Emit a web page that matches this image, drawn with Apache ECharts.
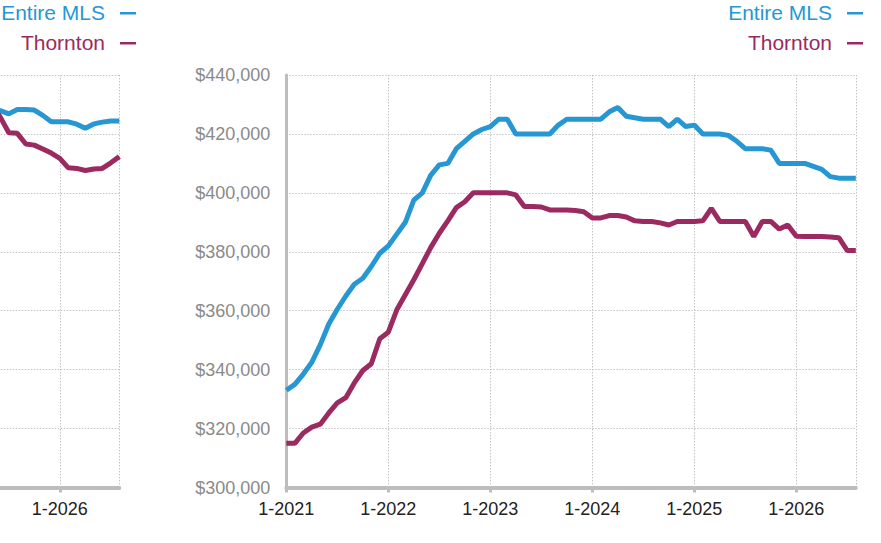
<!DOCTYPE html>
<html>
<head>
<meta charset="utf-8">
<script src="https://cdn.jsdelivr.net/npm/echarts@6/dist/echarts.min.js"></script>
<style>
html,body{margin:0;padding:0;background:#fff;}
#c{width:881px;height:543px;}
</style>
</head>
<body>
<div id="c"></div>
<script>
// ---- data ----
var seriesNames = ['Entire MLS', 'Thornton'];
var seriesColors = ['#2697d3', '#9b2a60'];

// main chart: monthly, 1-2021 .. 8-2026
var mainStart = [2021, 1];
var mainMonths = 68;
var mainMLS = [333000,335000,338500,342500,348500,355500,360500,365000,369000,371000,
  375000,379500,382000,386000,390000,397500,400000,406000,409500,410000,
  415000,417500,420000,421500,422500,425000,425000,420000,420000,420000,
  420000,420000,423000,425000,425000,425000,425000,425000,427500,429000,
  426000,425500,425000,425000,425000,422500,425000,422500,423000,420000,
  420000,420000,419500,417500,415000,415000,415000,414500,410000,410000,
  410000,410000,409000,408000,405500,405000,405000,405000];
var mainThornton = [315000,315000,318500,320500,321500,325300,328700,330500,335500,339700,
  342000,350500,352700,360300,365400,370500,376000,381500,386300,390500,
  395000,397000,400000,400000,400000,400000,400000,399300,395400,395400,
  395200,394200,394200,394200,394000,393600,391500,391500,392300,392300,
  391800,390500,390300,390300,389800,389100,390300,390300,390300,390500,
  394700,390300,390300,390300,390300,385200,390300,390300,387700,389100,
  385300,385200,385200,385200,385000,384800,380400,380400];

// partially visible chart on the left: 5-2025 .. 8-2026
var leftStart = [2025, 5];
var leftMonths = 16;
var leftMLS = [427800,427900,426800,428300,428300,428100,426300,424100,424100,424100,
  423300,421900,423400,424000,424400,424400];
var leftThornton = [429800,425700,420400,420200,416600,416200,414900,413500,411700,408500,
  408300,407600,408100,408300,410200,412300];

var yMin = 300000, yMax = 440000, yStep = 20000;

function monthLabels(start, n) {
  var out = [], y = start[0], m = start[1];
  for (var i = 0; i < n; i++) {
    out.push(m + '-' + y);
    m++; if (m > 12) { m = 1; y++; }
  }
  return out;
}
var mainCats = monthLabels(mainStart, mainMonths);
var leftCats = monthLabels(leftStart, leftMonths);

// ---- chart ----
var FONT = '"Liberation Sans", Arial, Helvetica, sans-serif';
var chart = echarts.init(document.getElementById('c'), null, {renderer: 'svg'});

function isYearStart(v) { return /^1-/.test(v); }
var gridLine = {color: '#c4c4c4', width: 1, type: [1.5, 1.5]};

function xAxis(gridIndex, cats) {
  var last = cats.length - 1;
  return {
    type: 'category', gridIndex: gridIndex, data: cats, boundaryGap: false,
    axisLine: {show: true, lineStyle: {color: '#bdbdbd', width: 4}},
    axisTick: {show: true, length: 5, lineStyle: {color: '#bdbdbd', width: 3},
      interval: function (i, v) { return isYearStart(v); }},
    axisLabel: {show: true, color: '#222', fontSize: 18, fontFamily: FONT, margin: 12,
      interval: function (i, v) { return isYearStart(v); }},
    splitLine: {show: true, lineStyle: gridLine,
      interval: function (i, v) { return isYearStart(v) || i === last; }}
  };
}
function yAxis(gridIndex, showLabels) {
  return {
    type: 'value', gridIndex: gridIndex, min: yMin, max: yMax, interval: yStep,
    axisLine: {show: true, lineStyle: {color: '#bdbdbd', width: 3}},
    axisTick: {show: false},
    axisLabel: {show: showLabels, color: '#8a8a8a', fontSize: 18, fontFamily: FONT, margin: 16,
      formatter: function (v) { return '$' + v.toLocaleString('en-US'); }},
    splitLine: {show: true, lineStyle: gridLine}
  };
}
function lineSeries(name, color, data, idx) {
  return {
    name: name, type: 'line', xAxisIndex: idx, yAxisIndex: idx, data: data,
    showSymbol: false, symbol: 'none', lineStyle: {color: color, width: 5},
    itemStyle: {color: color}, animation: false, z: 3
  };
}
function legendGraphics(textRight, lineX) {
  var g = [];
  var ys = [12, 42];
  for (var i = 0; i < seriesNames.length; i++) {
    g.push({type: 'text', x: textRight, y: ys[i], z: 10,
      style: {text: seriesNames[i], fill: seriesColors[i], font: '21px ' + FONT,
        align: 'right', verticalAlign: 'middle'}});
    g.push({type: 'rect', z: 10, shape: {x: lineX, y: ys[i], width: 16, height: 2.5},
      style: {fill: seriesColors[i]}});
  }
  return g;
}

chart.setOption({
  backgroundColor: '#fff',
  animation: false,
  textStyle: {fontFamily: FONT},
  grid: [
    {left: 286.3, right: 25.2, top: 75, bottom: 55.5, containLabel: false, outerBoundsMode: 'none'},
    {left: -8.2, width: 127.5, top: 75, bottom: 55.5, containLabel: false, outerBoundsMode: 'none'}
  ],
  xAxis: [xAxis(0, mainCats), xAxis(1, leftCats)],
  yAxis: [yAxis(0, true), yAxis(1, false)],
  series: [
    lineSeries(seriesNames[0], seriesColors[0], mainMLS, 0),
    lineSeries(seriesNames[1], seriesColors[1], mainThornton, 0),
    lineSeries(seriesNames[0], seriesColors[0], leftMLS, 1),
    lineSeries(seriesNames[1], seriesColors[1], leftThornton, 1)
  ],
  graphic: legendGraphics(832, 847).concat(legendGraphics(105, 120))
});
</script>
</body>
</html>
